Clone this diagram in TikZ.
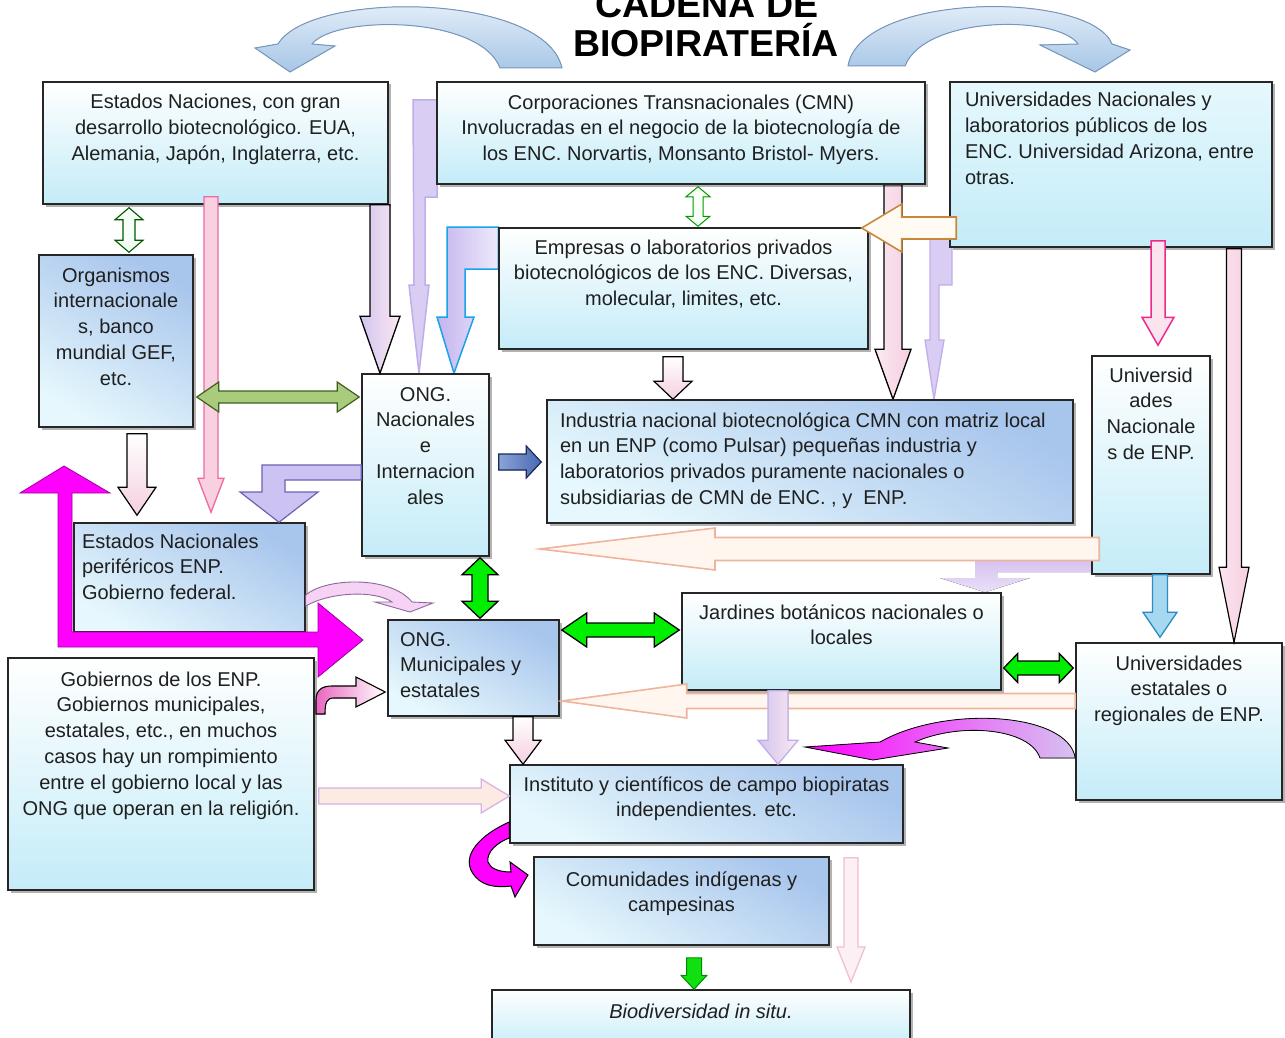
\documentclass[tikz,border=0pt]{standalone}
\usepackage{fontspec}
\setmainfont{Liberation Sans}
\usetikzlibrary{calc,shadows}
\pgfdeclarelayer{bg}
\pgfsetlayers{bg,main}
\definecolor{cyanb}{HTML}{C4ECF8}
\definecolor{blueb}{HTML}{A8C5EC}
\definecolor{cyanl}{HTML}{E6F8FD}
\definecolor{arcA}{HTML}{EEF5FC}
\definecolor{arcB}{HTML}{A6C6E6}
\definecolor{arcD}{HTML}{7896BC}
\definecolor{pkf}{HTML}{F8D0E0}
\definecolor{pkd}{HTML}{EC6AA0}
\definecolor{pkf2}{HTML}{FCE4EE}
\definecolor{pkl}{HTML}{F5CFE0}
\definecolor{lavL}{HTML}{D2C4EE}
\definecolor{pinkL}{HTML}{FCE8F1}
\definecolor{lav}{HTML}{D9CDF3}
\definecolor{lavd}{HTML}{C0AEEA}
\definecolor{lavB}{HTML}{C4B4EE}
\definecolor{lavW}{HTML}{EEEAFB}
\definecolor{lavC}{HTML}{D6C2F0}
\definecolor{lavM}{HTML}{CCC3F2}
\definecolor{lavdark}{HTML}{6E60B4}
\definecolor{cyanline}{HTML}{1AA3E8}
\definecolor{orf}{HTML}{FFFBF3}
\definecolor{ord}{HTML}{C8883C}
\definecolor{mag}{HTML}{FF00FF}
\definecolor{magd}{HTML}{A000A0}
\definecolor{magL}{HTML}{E868C0}
\definecolor{peachf}{HTML}{FFF6F0}
\definecolor{peachd}{HTML}{F0B49C}
\definecolor{peachf2}{HTML}{FCEAE3}
\definecolor{lavd2}{HTML}{D4B4E4}
\definecolor{greenA}{HTML}{A9CC7C}
\definecolor{greenAd}{HTML}{3F5F24}
\definecolor{brgreen}{HTML}{00EE00}
\definecolor{brgreen2}{HTML}{10E010}
\definecolor{dblue1}{HTML}{8AA4D8}
\definecolor{dblue2}{HTML}{4A68B0}
\definecolor{dbluedr}{HTML}{1A2A5A}
\definecolor{bluef}{HTML}{A6D8F0}
\definecolor{bluedr}{HTML}{2A8CC0}
\definecolor{hotpink}{HTML}{EC2A8C}
\definecolor{pinklav}{HTML}{F6D2F4}
\definecolor{pinklavd}{HTML}{8A6A9A}
\definecolor{pkf3}{HTML}{FDF0F4}
\definecolor{pkd3}{HTML}{F0C0D0}

\tikzset{
  box/.style={draw=black!85, line width=1.5pt, inner ysep=0pt, text=black!88,
    font=\fontsize{20}{25.8}\selectfont,
    drop shadow={shadow xshift=2.5pt, shadow yshift=-2.5pt, opacity=0.3, fill=black}},
  boxA/.style={box, top color=white, bottom color=cyanb},
  boxB/.style={box, top color=blueb, bottom color=cyanl, shading angle=-30},
  boxC/.style={box, top color=cyanl, bottom color=cyanb},
  titlest/.style={font=\fontsize{37.5}{40}\selectfont\bfseries, text=black, inner sep=0pt},
  arcst/.style={top color=arcA, bottom color=arcB, draw=arcD, line width=1pt}
}
% block arrow: [style]{from}{to}{half shaft}{half head}{head length}
\newcommand\barrow[6][]{%
  \path (#2) coordinate (bA) (#3) coordinate (bB);
  \path ($(bB)!#6!(bA)$) coordinate (bH);
  \filldraw[#1] ($(bA)!#4!90:(bB)$) -- ($(bH)!#4!-90:(bA)$) -- ($(bH)!#5!-90:(bA)$) -- (bB)
    -- ($(bH)!#5!90:(bA)$) -- ($(bH)!#4!90:(bA)$) -- ($(bA)!#4!-90:(bB)$) -- cycle;}
\newcommand\dbarrow[6][]{%
  \path (#2) coordinate (bA) (#3) coordinate (bB);
  \path ($(bA)!#6!(bB)$) coordinate (bH) ($(bB)!#6!(bA)$) coordinate (bG);
  \filldraw[#1] (bA) -- ($(bH)!#5!90:(bB)$) -- ($(bH)!#4!90:(bB)$) -- ($(bG)!#4!-90:(bA)$)
    -- ($(bG)!#5!-90:(bA)$) -- (bB) -- ($(bG)!#5!90:(bA)$) -- ($(bG)!#4!90:(bA)$)
    -- ($(bH)!#4!-90:(bB)$) -- ($(bH)!#5!-90:(bB)$) -- cycle;}
% box text: {height}{inner width}{alignment}{first baseline}{text}
\newcommand\btext[5]{\parbox[c][#1pt][t]{#2pt}{#3\rule{0pt}{#4pt}#5}}

\begin{document}
\begin{tikzpicture}[x=1pt,y=-1pt]
\path[use as bounding box] (0,0) rectangle (1285,1038);
\begin{pgfonlayer}{bg}\fill[white] (0,0) rectangle (1285,1038);\end{pgfonlayer}
\clip (0,0) rectangle (1285,1038);

% title
\node[titlest, anchor=base] (t1) at (707,18) {CADENA DE};
\node[titlest, anchor=base] (t2) at (706,57) {BIOPIRATERÍA};

% decorative curved arrows
\filldraw[arcst] (562,68) .. controls (545,-8) and (310,-10) .. (278,44) -- (255,48) -- (290,72) -- (335,46) -- (312,44) .. controls (335,15) and (480,15) .. (500,68) -- cycle;
\filldraw[arcst] (848,66) .. controls (860,-8) and (1090,-10) .. (1112,44) -- (1130,50) -- (1095,72) -- (1040,45) -- (1078,44) .. controls (1058,15) and (925,15) .. (905,66) -- cycle;

% boxes
\node[boxA, inner xsep=10pt] (estN) at (215.5,143) {\btext{122}{325}{\centering}{27}{Estados Naciones, con gran\\desarrollo biotecnológico. EUA,\\Alemania, Japón, Inglaterra, etc.}};
\node[boxA, inner xsep=8pt] (cmn) at (681,133) {\btext{102}{472}{\centering}{27}{Corporaciones Transnacionales (CMN)\\Involucradas en el negocio de la biotecnología de\\los ENC. Norvartis, Monsanto Bristol- Myers.}};
\node[boxC, inner xsep=15pt] (uniNL) at (1111,164.5) {\btext{165}{292}{\raggedright}{25}{Universidades Nacionales y\\laboratorios públicos de los\\ENC. Universidad Arizona, entre\\otras.}};
\node[boxB, inner xsep=5pt] (org) at (116,341) {\btext{172}{144}{\centering}{27}{Organismos\\internacionale\\s, banco\\mundial GEF,\\etc.}};
\node[boxA, inner xsep=8pt] (emp) at (683.5,288.5) {\btext{121}{353}{\centering}{26}{Empresas o laboratorios privados\\biotecnológicos de los ENC. Diversas,\\molecular, limites, etc.}};
\node[boxA, inner xsep=5pt] (ongN) at (425.5,465) {\btext{182}{117}{\centering}{27}{ONG.\\Nacionales\\e\\Internacion\\ales}};
\node[boxB, inner xsep=13pt] (ind) at (810,461.5) {\btext{123}{500}{\raggedright}{27}{Industria nacional biotecnológica CMN con matriz local\\en un ENP (como Pulsar) pequeñas industria y\\laboratorios privados puramente nacionales o\\subsidiarias de CMN de ENC. , y\ \ ENP.}};
\node[boxA, inner xsep=5pt] (uniENP) at (1151,465) {\btext{218}{108}{\centering}{26}{Universid\\ades\\Nacionale\\s de ENP.}};
\node[boxB, inner xsep=8pt] (estP) at (189.5,577.5) {\btext{109}{215}{\raggedright}{25}{Estados Nacionales\\periféricos ENP.\\Gobierno federal.}};
\node[boxB, inner xsep=12pt] (ongM) at (473.5,668) {\btext{96}{147}{\raggedright}{26}{ONG.\\Municipales y\\estatales}};
\node[boxA, inner xsep=8pt] (jar) at (841.5,641.5) {\btext{97}{303}{\centering}{26}{Jardines botánicos nacionales o\\locales}};
\node[boxA, inner xsep=8pt] (uniE) at (1179,721.5) {\btext{157}{190}{\centering}{27}{Universidades\\estatales o\\regionales de ENP.}};
\node[boxA, inner xsep=8pt] (gob) at (161,774) {\btext{232}{290}{\centering}{28}{Gobiernos de los ENP.\\Gobiernos municipales,\\estatales, etc., en muchos\\casos hay un rompimiento\\entre el gobierno local y las\\ONG que operan en la religión.}};
\node[boxB, inner xsep=8pt] (ins) at (706.5,804) {\btext{78}{377}{\centering}{26}{Instituto y científicos de campo biopiratas\\independientes. etc.}};
\node[boxB, inner xsep=8pt] (com) at (681.5,901) {\btext{88}{279}{\centering}{29}{Comunidades indígenas y\\campesinas}};
\node[boxA, inner xsep=8pt] (bio) at (701,1020) {\btext{60}{402}{\centering}{28}{\itshape Biodiversidad in situ.}};

% arrows behind boxes
\begin{pgfonlayer}{bg}
\filldraw[fill=lav, draw=lavd, line width=1.5pt] (413,100) -- (437,100) -- (437,197) -- (425,197) -- (425,285) -- (429,285) -- (419,0 |- ongN.north) -- (409,285) -- (414,285) -- cycle;
\filldraw[left color=lavB, right color=lavW, draw=cyanline, line width=1.5pt] (emp.west |- 0,227) -- (447,227) -- (447,317) -- (437,317) -- (454,0 |- ongN.north) -- (474,317) -- (465,317) -- (465,269) -- (emp.west |- 0,269) -- cycle;
\barrow[left color=pinkL, right color=pkl, draw=black, line width=1.3pt]{893,0 |- cmn.south}{893,0 |- ind.north}{9pt}{18pt}{50pt}
\filldraw[fill=lav, draw=lavd, line width=1.3pt] (930,230) -- (952,230) -- (952,285) -- (939,285) -- (939,340) -- (944,340) -- (934,0 |- ind.north) -- (925,340) -- (930,340) -- cycle;
\filldraw[top color=lavC, bottom color=lav!60, draw=none] (uniENP.west |- 0,560) -- (975,560) -- (975,578) -- (940,578) -- (985,0 |- jar.north) -- (1030,578) -- (997,578) -- (997,572) -- (uniENP.west |- 0,572) -- cycle;
\end{pgfonlayer}

% front arrows
\dbarrow[fill=green!4, draw=green!35!black, line width=1.1pt]{$(estN.south -| 129,0)+(0,3)$}{$(org.north -| 129,0)+(0,-2)$}{6pt}{14pt}{12pt}
\barrow[fill=pkf, draw=pkd, line width=1.3pt]{$(estN.south -| 211,0)+(0,-8)$}{$(estP.north -| 211,0)+(0,-10)$}{7pt}{13pt}{34pt}
\barrow[left color=lavL, right color=pinkL, draw=black, line width=1.3pt]{estN.south -| 380,0}{380,0 |- ongN.north}{10pt}{20pt}{57pt}
\dbarrow[fill=green!3, draw=green!60!black, line width=1pt]{$(cmn.south -| 698,0)+(0,2)$}{$(emp.north -| 698,0)+(0,-1)$}{5pt}{12pt}{10pt}
\barrow[fill=orf, draw=ord, line width=1.6pt]{$(uniNL.west |- 0,228)+(7,0)$}{$(emp.east |- 0,228)+(-7,0)$}{11pt}{24pt}{40pt}
\barrow[top color=white, bottom color=pkl, draw=black, line width=1.2pt]{$(emp.south -| 673,0)+(0,7)$}{673,0 |- ind.north}{10pt}{19pt}{18pt}
\barrow[fill=pkf2, draw=hotpink, line width=1.5pt]{$(uniNL.south -| 1158,0)+(0,-7)$}{$(uniENP.north -| 1158,0)+(0,-10)$}{7pt}{16pt}{28pt}
\barrow[left color=pkf2, right color=pkl, draw=black, line width=1.2pt]{$(uniNL.south -| 1234,0)+(0,1)$}{1234,0 |- uniE.north}{7.5pt}{15pt}{75pt}
\barrow[fill=bluef, draw=bluedr, line width=1.3pt]{uniENP.south -| 1160,0}{$(uniE.north -| 1160,0)+(0,-5)$}{7.5pt}{17pt}{25pt}
\dbarrow[fill=greenA, draw=greenAd, line width=1.2pt]{$(org.east |- 0,397)+(3,0)$}{$(ongN.west |- 0,397)+(-2,0)$}{6pt}{15pt}{22pt}
\barrow[top color=white, bottom color=pkl, draw=black, line width=1.2pt]{$(org.south -| 137,0)+(0,6)$}{$(estP.north -| 137,0)+(0,-7)$}{10pt}{19pt}{28pt}
\filldraw[fill=lavM, draw=lavdark, line width=1.2pt] (ongN.west |- 0,465) -- (262,465) -- (262,492) -- (240,492) -- (279,0 |- estP.north) -- (318,492) -- (285,492) -- (285,480) -- (ongN.west |- 0,480) -- cycle;
\barrow[left color=dblue1, right color=dblue2, draw=dbluedr, line width=1.2pt]{$(ongN.east |- 0,462)+(9,0)$}{$(ind.west |- 0,462)+(-5,0)$}{8pt}{16pt}{15pt}
\filldraw[fill=mag, draw=magd, line width=.8pt] (58,493) -- (20,493) -- (64,466) -- (110,493) -- (72,493) -- (72,632) -- (318,632) -- (318,603) -- (363,640) -- (318,677) -- (318,647) -- (58,647) -- cycle;
\dbarrow[fill=brgreen, draw=black, line width=1.3pt]{$(ongN.south -| 480,0)+(0,1)$}{$(ongM.north -| 480,0)+(0,-1)$}{8pt}{18pt}{17pt}
\filldraw[fill=pinklav, draw=pinklavd, line width=.9pt] (estP.east |- 0,595) .. controls (325,578) and (390,575) .. (412,602) -- (433,603) -- (410,612) -- (375,602) -- (392,602) .. controls (375,590) and (330,592) .. (estP.east |- 0,606) -- cycle;
\filldraw[left color=magL, right color=white, draw=black, line width=1.1pt] (316,714) -- (316,700) .. controls (316,690) and (322,686) .. (332,686) -- (356,686) -- (356,677) -- ($(ongM.west |- 0,692)+(-2,0)$) -- (356,707) -- (356,698) -- (334,698) .. controls (327,698) and (325,702) .. (325,714) -- cycle;
\coordinate (pk1) at (540,549);
\barrow[fill=peachf, draw=peachd, line width=1.6pt]{$(uniENP.west |- 0,549)+(8,0)$}{pk1}{11.5pt}{21pt}{175pt}
\dbarrow[fill=brgreen, draw=black, line width=1.3pt]{$(ongM.east |- 0,630)+(2,0)$}{$(jar.west |- 0,630)+(-2,0)$}{7pt}{17pt}{25pt}
\dbarrow[fill=brgreen, draw=black, line width=1.3pt]{$(jar.east |- 0,668)+(2,0)$}{$(uniE.west |- 0,668)+(-2,0)$}{7pt}{14.5pt}{14pt}
\barrow[fill=peachf, draw=peachd, line width=1.6pt]{uniE.west |- 0,701}{$(ongM.east |- 0,701)+(2,0)$}{7.5pt}{17pt}{125pt}
\barrow[left color=lavL, right color=pinkL, draw=lavd, line width=1.3pt]{jar.south -| 778,0}{778,0 |- ins.north}{10pt}{20pt}{24pt}
\filldraw[left color=mag, right color=lavC, draw=black, line width=.8pt] (uniE.west |- 0,758) .. controls (1068,712) and (945,705) .. (880,742) -- (805,747) -- (873,760) -- (948,748) -- (915,742) .. controls (960,722) and (1030,728) .. (1040,758) -- cycle;
\barrow[top color=white, bottom color=pkl, draw=black, line width=1.2pt]{ongM.south -| 523,0}{523,0 |- ins.north}{10pt}{18pt}{24pt}
\barrow[fill=peachf2, draw=lavd2, line width=1.3pt]{$(gob.east |- 0,796)+(4,0)$}{ins.west |- 0,796}{8pt}{17pt}{28pt}
\filldraw[fill=mag, draw=black, line width=1pt] (ins.west |- 0,822) .. controls (480,835) and (462,855) .. (472,872) .. controls (480,886) and (495,888) .. (511,886) -- (515,897) -- (528,875) -- (510,862) -- (511,872) .. controls (498,872) and (490,868) .. (488,862) .. controls (486,852) and (498,842) .. (ins.west |- 0,838) -- cycle;
\coordinate (pk2) at (851,982);
\barrow[fill=pkf3, draw=pkd3, line width=1.3pt]{$(ins.south -| 851,0)+(0,14)$}{pk2}{7pt}{14pt}{35pt}
\barrow[fill=brgreen2, draw=green!55!black, line width=1pt]{$(com.south -| 694,0)+(0,12)$}{694,0 |- bio.north}{7.5pt}{13pt}{14pt}
\end{tikzpicture}
\end{document}
